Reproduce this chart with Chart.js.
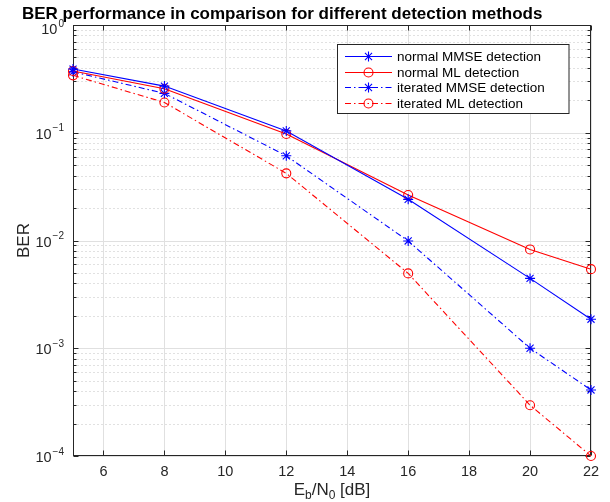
<!DOCTYPE html>
<html><head><meta charset="utf-8">
<script src="https://cdn.jsdelivr.net/npm/chart.js@4.4.0/dist/chart.umd.min.js"></script>
<style>html,body{margin:0;padding:0;background:#fff;}canvas{display:block;}</style>
</head><body>
<canvas id="c" width="610" height="502" style="width:610px;height:502px"></canvas>
<script>
// ---- data ----
const ebn0 = [5, 8, 12, 16, 20, 22];
const normalMMSE = [0.39, 0.271, 0.104, 0.0241, 0.00445, 0.00186];
const normalML = [0.374, 0.256, 0.0973, 0.0264, 0.00826, 0.00542];
const iteratedMMSE = [0.368, 0.232, 0.0611, 0.0099, 0.001, 0.00041];
const iteratedML = [0.341, 0.191, 0.042, 0.00495, 0.000296, 0.0001];
const seriesNames = ['normal MMSE detection', 'normal ML detection', 'iterated MMSE detection', 'iterated ML detection'];
const xTickValues = [6, 8, 10, 12, 14, 16, 18, 20, 22];
const yDecadeExps = [-4, -3, -2, -1, 0];
const titleText = 'BER performance in comparison for different detection methods';
const yLabelText = 'BER';

const FONT = '"Liberation Sans", Arial, Helvetica, sans-serif';
const AX = '#262626';
const BLUE = '#0000ff', RED = '#ff0000';
const DASHDOT = [6, 3, 1.5, 3];

function mk(label, arr, color, dash, style, r) {
  return {
    label, data: ebn0.map((v, i) => ({x: v, y: arr[i]})),
    borderColor: color, backgroundColor: 'transparent', borderWidth: 1.1,
    borderDash: dash, pointStyle: style, pointRadius: r, pointHoverRadius: r,
    pointBorderWidth: 1.1, pointBorderColor: color, pointBackgroundColor: 'rgba(0,0,0,0)',
    clip: false, tension: 0
  };
}
const datasets = [
  mk(seriesNames[0], normalMMSE, BLUE, [], 'star', 5),
  mk(seriesNames[1], normalML, RED, [], 'circle', 4.5),
  mk(seriesNames[2], iteratedMMSE, BLUE, DASHDOT, 'star', 5),
  mk(seriesNames[3], iteratedML, RED, DASHDOT, 'circle', 4.5)
];

function seg(ctx, x1, y1, x2, y2) { ctx.beginPath(); ctx.moveTo(x1, y1); ctx.lineTo(x2, y2); ctx.stroke(); }

const matlabPlugin = {
  id: 'matlab',
  beforeDatasetsDraw(chart) {
    const {ctx, chartArea: a, scales: {x, y}} = chart;
    const L = a.left + 0.5, R = a.right - 0.5, T = a.top + 0.5, B = a.bottom - 0.5;
    ctx.save();
    ctx.lineWidth = 1;
    // minor grid (dotted)
    ctx.strokeStyle = '#c2c2c2';
    ctx.setLineDash([1, 3]);
    for (let e = -4; e < 0; e++) for (let m = 2; m <= 9; m++) {
      const py = Math.round(y.getPixelForValue(m * Math.pow(10, e))) + 0.5;
      seg(ctx, L, py, R, py);
    }
    ctx.setLineDash([]);
    // major grid
    ctx.strokeStyle = '#e0e0e0';
    xTickValues.forEach(v => { const px = Math.round(x.getPixelForValue(v)) + 0.5; seg(ctx, px, T, px, B); });
    yDecadeExps.forEach(e => { const py = Math.round(y.getPixelForValue(Math.pow(10, e))) + 0.5; seg(ctx, L, py, R, py); });
    // box
    ctx.strokeStyle = AX;
    ctx.strokeRect(L, T, R - L, B - T);
    // x ticks (bottom & top, inward)
    xTickValues.forEach(v => {
      const px = Math.round(x.getPixelForValue(v)) + 0.5;
      seg(ctx, px, B, px, B - 5); seg(ctx, px, T, px, T + 5);
    });
    // y ticks major/minor
    yDecadeExps.forEach(e => {
      const py = Math.round(y.getPixelForValue(Math.pow(10, e))) + 0.5;
      seg(ctx, L, py, L + 5, py); seg(ctx, R, py, R - 5, py);
    });
    for (let e = -4; e < 0; e++) for (let m = 2; m <= 9; m++) {
      const py = Math.round(y.getPixelForValue(m * Math.pow(10, e))) + 0.5;
      seg(ctx, L, py, L + 3, py); seg(ctx, R, py, R - 3, py);
    }
    // x tick labels
    ctx.fillStyle = AX;
    ctx.font = '14.5px ' + FONT;
    ctx.textAlign = 'center'; ctx.textBaseline = 'alphabetic';
    xTickValues.forEach(v => ctx.fillText(String(v), x.getPixelForValue(v), 476));
    // y tick labels 10^e
    yDecadeExps.forEach(e => {
      const py = y.getPixelForValue(Math.pow(10, e));
      const base = '10', ex = (e < 0 ? '\u2212' + (-e) : String(e));
      ctx.font = '14.5px ' + FONT; const wb = ctx.measureText(base).width;
      ctx.font = '10px ' + FONT; const we = ctx.measureText(ex).width;
      const right = 64;
      const sx = right - we - wb - 1;
      ctx.textAlign = 'left';
      ctx.font = '14.5px ' + FONT; ctx.fillText(base, sx, py + 6 + (e === 0 ? 3 : 0));
      ctx.font = '10px ' + FONT; ctx.fillText(ex, sx + wb + 1, py - 1.5 + (e === 0 ? 3 : 0));
    });
    // x label E_b/N_0 [dB]
    const parts = [['E', 17, 0], ['b', 12, 4], ['/N', 17, 0], ['0', 12, 4], [' [dB]', 17, 0]];
    let tw = 0;
    parts.forEach(p => { ctx.font = p[1] + 'px ' + FONT; tw += ctx.measureText(p[0]).width; });
    let cx = (a.left + a.right) / 2 - tw / 2;
    parts.forEach(p => { ctx.font = p[1] + 'px ' + FONT; ctx.fillText(p[0], cx, 495 + p[2]); cx += ctx.measureText(p[0]).width; });
    // y label
    ctx.save();
    ctx.translate(28.6, (a.top + a.bottom) / 2);
    ctx.rotate(-Math.PI / 2);
    ctx.font = '17px ' + FONT; ctx.textAlign = 'center';
    ctx.fillText(yLabelText, 0, 0);
    ctx.restore();
    // title
    ctx.fillStyle = '#000';
    ctx.font = 'bold 17px ' + FONT; ctx.textAlign = 'left';
    ctx.fillText(titleText, 22, 19);
    ctx.restore();
  },
  afterDatasetsDraw(chart) {
    const {ctx} = chart;
    ctx.save();
    const bx = 337.5, by = 44.5, bw = 231.5, bh = 69;
    ctx.fillStyle = '#fff'; ctx.fillRect(bx, by, bw, bh);
    ctx.strokeStyle = AX; ctx.lineWidth = 1; ctx.strokeRect(bx, by, bw, bh);
    chart.data.datasets.forEach((ds, i) => {
      const ry = Math.round(56 + i * 15.6) + 0.5;
      ctx.strokeStyle = ds.borderColor; ctx.lineWidth = ds.borderWidth;
      ctx.setLineDash(ds.borderDash);
      seg(ctx, 345, ry, 392, ry);
      ctx.setLineDash([]);
      ctx.fillStyle = 'rgba(0,0,0,0)';
      ctx.strokeStyle = ds.borderColor;
      Chart.helpers.drawPoint(ctx, {pointStyle: ds.pointStyle, radius: ds.pointRadius, borderWidth: ds.pointBorderWidth, rotation: 0}, 368.5, ry);
      ctx.fillStyle = '#000';
      ctx.font = '13.5px ' + FONT; ctx.textAlign = 'left'; ctx.textBaseline = 'middle';
      ctx.fillText(ds.label, 397, ry + 0.5);
    });
    ctx.restore();
  }
};

new Chart(document.getElementById('c'), {
  type: 'line',
  data: {datasets},
  options: {
    responsive: false, animation: false, devicePixelRatio: 1,
    layout: {padding: {left: 73, right: 19, top: 25, bottom: 46}},
    plugins: {legend: {display: false}, tooltip: {enabled: false}, title: {display: false}},
    scales: {
      x: {type: 'linear', min: 5, max: 22, display: false},
      y: {type: 'logarithmic', min: 1e-4, max: 1, display: false}
    }
  },
  plugins: [matlabPlugin]
});
</script>
</body></html>
